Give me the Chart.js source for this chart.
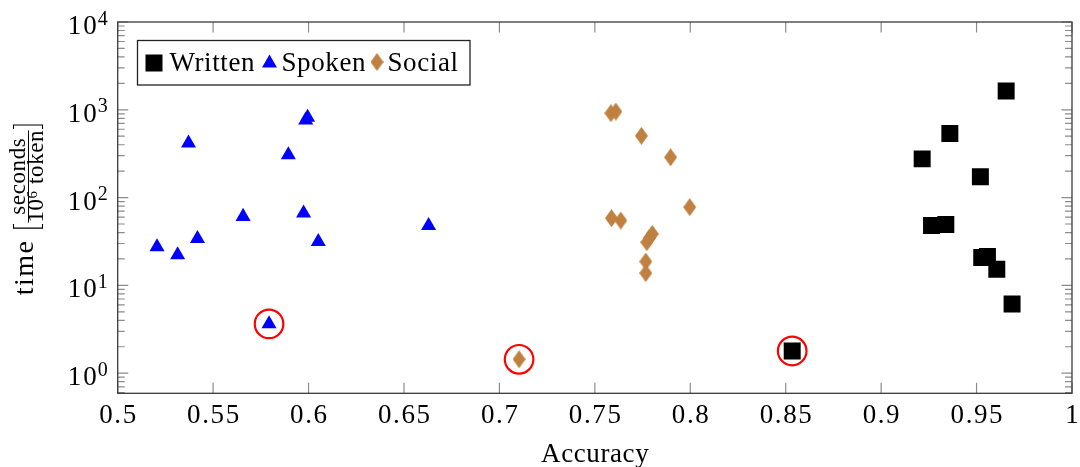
<!DOCTYPE html>
<html>
<head>
<meta charset="utf-8">
<script src="https://cdn.jsdelivr.net/npm/chart.js@4"></script>
<style>
  html, body { margin: 0; padding: 0; background: #fff; overflow: hidden; }
  #wrap { width: 1080px; height: 467px; }
  canvas { display: block; }
</style>
</head>
<body>
<div id="wrap"><canvas id="c" width="1080" height="467"></canvas></div>
<script>
// Accuracy (x) versus processing time in seconds per 10^6 tokens (y, log scale)
const writtenX = [0.9655, 0.9360, 0.9215, 0.9520, 0.9264, 0.9339, 0.9527, 0.9557, 0.9606, 0.9686, 0.8534];
const writtenY = [1641, 536, 276, 173, 48, 49.3, 20.8, 21.3, 15.3, 6.15, 1.79];

const spokenX = [0.5206, 0.5314, 0.5418, 0.5371, 0.5657, 0.5894, 0.5985, 0.5995, 0.5974, 0.6051, 0.6629, 0.5793];
const spokenY = [27.4, 22.2, 34.1, 416, 60.8, 306, 760, 820, 66.4, 31.5, 48, 3.64];

const socialX = [0.7584, 0.7610, 0.7744, 0.7897, 0.7997, 0.7587, 0.7636, 0.7801, 0.7786, 0.7772, 0.7767, 0.7767, 0.7103];
const socialY = [915, 954, 505, 288, 77.8, 58.3, 54.8, 38.6, 34.7, 31, 18.7, 13.8, 1.44];

// fastest system of each kind, ringed in red
const fastestX = [0.5793, 0.7103, 0.8534];
const fastestY = [3.64, 1.44, 1.79];

const seriesNames = ['Written', 'Spoken', 'Social'];
const xTickValues = [0.5, 0.55, 0.6, 0.65, 0.7, 0.75, 0.8, 0.85, 0.9, 0.95, 1];
const xTickLabels = ['0.5', '0.55', '0.6', '0.65', '0.7', '0.75', '0.8', '0.85', '0.9', '0.95', '1'];
const yTickExponents = [0, 1, 2, 3, 4];
const xTitle = 'Accuracy';

const SERIF = '"Liberation Serif", "Times New Roman", serif';
const BROWN = 'rgb(191,128,64)';
const BLUE = '#0000ff';

function points(xs, ys) { return xs.map((x, i) => ({ x: x, y: ys[i] })); }

// tall diamond marker
function makeDiamond(w, h, color) {
  const c = document.createElement('canvas');
  c.width = w; c.height = h;
  const g = c.getContext('2d');
  g.fillStyle = color;
  g.beginPath();
  g.moveTo(w / 2, 0); g.lineTo(w, h / 2); g.lineTo(w / 2, h); g.lineTo(0, h / 2);
  g.closePath(); g.fill();
  return c;
}
const diamond = makeDiamond(13, 18, BROWN);

// text with extra tracking, centred on x
function spacedCentered(ctx, text, x, y, ls) {
  ctx.letterSpacing = ls + 'px';
  const w = ctx.measureText(text).width - ls;
  ctx.textAlign = 'left';
  ctx.fillText(text, x - w / 2, y);
  ctx.letterSpacing = '0px';
}

// frame and inward ticks on all four sides
const frameTicks = {
  id: 'frameTicks',
  beforeDatasetsDraw(chart) {
    const { ctx, chartArea: a, scales: { x, y } } = chart;
    ctx.save();
    ctx.strokeStyle = '#8c8c8c';
    ctx.lineWidth = 1.2;
    ctx.beginPath();
    xTickValues.forEach(v => {
      const px = x.getPixelForValue(v);
      ctx.moveTo(px, a.bottom); ctx.lineTo(px, a.bottom - 10.5);
      ctx.moveTo(px, a.top); ctx.lineTo(px, a.top + 10.5);
    });
    for (let e = -1; e <= 4; e++) {
      for (let m = 1; m <= 9; m++) {
        const v = m * Math.pow(10, e);
        if (v < y.min || v > y.max) continue;
        const py = y.getPixelForValue(v);
        const len = m === 1 ? 10.5 : 7;
        ctx.moveTo(a.left, py); ctx.lineTo(a.left + len, py);
        ctx.moveTo(a.right, py); ctx.lineTo(a.right - len, py);
      }
    }
    ctx.stroke();
    ctx.strokeStyle = '#3a3a3a';
    ctx.lineWidth = 1.3;
    ctx.strokeRect(a.left, a.top, a.right - a.left, a.bottom - a.top);
    ctx.restore();
  }
};

// legend box inside the plot
const boxedLegend = {
  id: 'boxedLegend',
  afterDatasetsDraw(chart) {
    const ctx = chart.ctx;
    ctx.save();
    ctx.fillStyle = '#fff';
    ctx.fillRect(137.5, 40.5, 332.5, 44.5);
    ctx.strokeStyle = '#222';
    ctx.lineWidth = 1.3;
    ctx.strokeRect(137.5, 40.5, 332.5, 44.5);
    ctx.fillStyle = '#000';
    ctx.fillRect(145.5, 54.5, 17, 17);
    ctx.fillStyle = BLUE;
    ctx.beginPath();
    ctx.moveTo(269.5, 54.5); ctx.lineTo(277, 67.5); ctx.lineTo(262, 67.5);
    ctx.closePath(); ctx.fill();
    ctx.drawImage(diamond, 377 - 6.5, 62 - 9);
    ctx.fillStyle = '#000';
    ctx.font = '27px ' + SERIF;
    ctx.textBaseline = 'alphabetic';
    ctx.textAlign = 'left';
    ctx.letterSpacing = '0.6px';
    ctx.fillText(seriesNames[0], 169.5, 70.5);
    ctx.fillText(seriesNames[1], 281.5, 70.5);
    ctx.fillText(seriesNames[2], 387.5, 70.5);
    ctx.letterSpacing = '0px';
    ctx.restore();
  }
};

// axis labels: x tick labels, powers of ten, both axis titles
const axisText = {
  id: 'axisText',
  afterDraw(chart) {
    const { ctx, chartArea: a, scales: { x, y } } = chart;
    ctx.save();
    ctx.fillStyle = '#000';
    ctx.textBaseline = 'alphabetic';

    ctx.font = '27px ' + SERIF;
    xTickValues.forEach((v, i) => {
      spacedCentered(ctx, xTickLabels[i], x.getPixelForValue(v), 423, 1.6);
    });
    ctx.font = '27px ' + SERIF;
    spacedCentered(ctx, xTitle, (a.left + a.right) / 2, 461.5, 0.6);

    yTickExponents.forEach(e => {
      const py = y.getPixelForValue(Math.pow(10, e));
      const sup = String(e);
      ctx.font = '20px ' + SERIF;
      const sw = ctx.measureText(sup).width;
      const sx = a.left - 10 - sw;
      ctx.textAlign = 'left';
      ctx.fillText(sup, sx, py + 2.6);
      ctx.font = '27px ' + SERIF;
      ctx.letterSpacing = '2px';
      const tw = ctx.measureText('10').width - 2;
      ctx.fillText('10', sx - 1 - tw, py + 12);
      ctx.letterSpacing = '0px';
    });

    // title: time [ seconds / 10^6 token ]
    const cy = (a.top + a.bottom) / 2 + 2.5;
    ctx.translate(0, cy);
    ctx.rotate(-Math.PI / 2);
    ctx.textAlign = 'left';
    ctx.font = '28px ' + SERIF;
    ctx.letterSpacing = '1.5px';
    const wTime = ctx.measureText('time').width - 1.5;
    ctx.font = '23px ' + SERIF;
    ctx.letterSpacing = '0.6px';
    const wNum = ctx.measureText('seconds').width - 0.6;
    const w10 = ctx.measureText('10').width;
    const wTok = ctx.measureText(' token').width - 0.6;
    ctx.font = '15px ' + SERIF;
    const w6 = ctx.measureText('6').width;
    const wDen = w10 + w6 + wTok;
    const wFrac = Math.max(wNum, wDen);
    const gap1 = 13, brW = 4, gap2 = 1.5;
    const total = wTime + gap1 + brW + gap2 + wFrac + gap2 + brW;
    let u = -total / 2;
    ctx.font = '28px ' + SERIF;
    ctx.letterSpacing = '1.5px';
    ctx.fillText('time', u, 33);
    ctx.letterSpacing = '0.6px';
    u += wTime + gap1;
    ctx.strokeStyle = '#000';
    ctx.lineWidth = 1.1;
    ctx.beginPath();
    ctx.moveTo(u + brW, 13.5); ctx.lineTo(u, 13.5); ctx.lineTo(u, 42.5); ctx.lineTo(u + brW, 42.5);
    ctx.stroke();
    u += brW + gap2;
    ctx.font = '23px ' + SERIF;
    ctx.fillText('seconds', u + (wFrac - wNum) / 2, 25);
    ctx.beginPath();
    ctx.lineWidth = 1;
    ctx.moveTo(u, 28.5); ctx.lineTo(u + wFrac, 28.5);
    ctx.stroke();
    const d = u + (wFrac - wDen) / 2;
    ctx.fillText('10', d, 43);
    ctx.font = '15px ' + SERIF;
    ctx.fillText('6', d + w10, 36.5);
    ctx.font = '23px ' + SERIF;
    ctx.fillText(' token', d + w10 + w6, 43);
    u += wFrac + gap2;
    ctx.lineWidth = 1.1;
    ctx.beginPath();
    ctx.moveTo(u, 13.5); ctx.lineTo(u + brW, 13.5); ctx.lineTo(u + brW, 42.5); ctx.lineTo(u, 42.5);
    ctx.stroke();
    ctx.letterSpacing = '0px';
    ctx.restore();
  }
};

new Chart(document.getElementById('c'), {
  type: 'scatter',
  data: {
    datasets: [
      {
        label: seriesNames[0],
        data: points(writtenX, writtenY),
        pointStyle: 'rect',
        pointRadius: 12,
        pointBackgroundColor: '#000',
        pointBorderColor: '#000',
        pointBorderWidth: 0
      },
      {
        label: seriesNames[1],
        data: points(spokenX, spokenY),
        pointStyle: 'triangle',
        pointRadius: 8.7,
        pointBackgroundColor: BLUE,
        pointBorderColor: BLUE,
        pointBorderWidth: 0
      },
      {
        label: seriesNames[2],
        data: points(socialX, socialY),
        pointStyle: diamond,
        pointRadius: 9,
        pointBackgroundColor: BROWN,
        pointBorderWidth: 0
      },
      {
        label: 'fastest',
        data: points(fastestX, fastestY),
        pointStyle: 'circle',
        pointRadius: 14.3,
        pointBackgroundColor: 'rgba(0,0,0,0)',
        pointBorderColor: '#ff0000',
        pointBorderWidth: 2.2
      }
    ]
  },
  options: {
    responsive: false,
    animation: false,
    devicePixelRatio: 1,
    events: [],
    layout: { autoPadding: false, padding: { top: 22, right: 8, left: 0, bottom: 0 } },
    plugins: {
      legend: { display: false },
      tooltip: { enabled: false }
    },
    scales: {
      x: {
        type: 'linear',
        min: 0.5,
        max: 1,
        afterBuildTicks: s => { s.ticks = xTickValues.map(v => ({ value: v })); },
        afterFit: s => { s.height = 73.7; s.paddingLeft = 0; s.paddingRight = 0; },
        grid: { display: false, drawTicks: false },
        border: { display: false },
        ticks: { display: false }
      },
      y: {
        type: 'logarithmic',
        min: 0.59,
        max: 10000,
        afterFit: s => { s.width = 117.7; s.paddingTop = 0; s.paddingBottom = 0; },
        grid: { display: false, drawTicks: false },
        border: { display: false },
        ticks: { display: false }
      }
    }
  },
  plugins: [frameTicks, boxedLegend, axisText]
});
</script>
</body>
</html>
